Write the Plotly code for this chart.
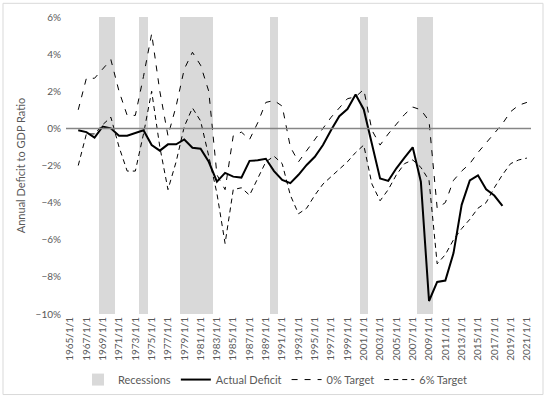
import plotly.graph_objects as go

years = list(range(1966, 2022))
label_years = list(range(1965, 2022, 2))
tick_labels = [f"{y}/1/1" for y in label_years]

recession_years = [1969, 1970, 1974, 1979, 1980, 1981, 1982, 1990, 2001, 2008, 2009]

actual_years = list(range(1966, 2019))
actual_deficit = [-0.1, -0.2, -0.5, 0.1, 0.0, -0.4, -0.4, -0.25, -0.1, -0.9,
                  -1.2, -0.86, -0.86, -0.6, -1.04, -1.1, -1.8, -2.87, -2.4, -2.6,
                  -2.65, -1.75, -1.72, -1.64, -2.3, -2.78, -2.95, -2.5, -1.97, -1.53,
                  -0.9, -0.09, 0.66, 1.04, 1.83, 1.02, -0.9, -2.7, -2.83, -2.15,
                  -1.58, -1.02, -2.87, -9.3, -8.27, -8.2, -6.72, -4.12, -2.8, -2.53,
                  -3.28, -3.62, -4.18]

target_0 = [1.0, 2.7, 2.7, 3.2, 3.7, 2.0, 0.7, 0.7, 2.8, 5.1,
            2.0, -0.4, 1.2, 3.2, 4.1, 3.4, 2.0, -2.5, -3.3, -0.4,
            -0.2, -0.6, 0.3, 1.4, 1.5, 1.2, -1.0, -1.8, -1.2, -0.6,
            0.0, 0.6, 1.1, 1.6, 1.7, 2.1, -0.1, -0.9, -0.3, 0.2,
            0.75, 1.15, 1.0, 0.4, -4.3, -4.0, -2.8, -2.3, -1.9, -1.3,
            -0.8, -0.3, 0.25, 0.9, 1.25, 1.4]

target_6 = [-2.0, -0.3, -0.3, 0.2, 0.6, -1.0, -2.3, -2.3, -0.3, 2.0,
            -1.0, -3.3, -1.8, 0.1, 1.1, 0.4, -1.5, -3.5, -6.2, -3.3,
            -3.2, -3.6, -2.7, -1.8, -1.5, -1.9, -3.6, -4.6, -4.3, -3.6,
            -3.0, -2.6, -2.2, -1.8, -1.3, -0.9, -3.0, -3.9, -3.3, -2.5,
            -1.9, -1.7, -2.1, -2.8, -7.3, -6.8, -6.0, -5.4, -4.9, -4.3,
            -4.0, -3.2, -2.5, -1.9, -1.7, -1.6]

Y_MIN, Y_MAX = -10, 6
FONT = "Lato"
GREY_TXT = "#595959"

fig = go.Figure()

fig.add_trace(go.Bar(
    x=recession_years, y=[Y_MAX - Y_MIN] * len(recession_years), base=Y_MIN,
    width=1, marker=dict(color="#d9d9d9", line=dict(width=0)),
    name="Recessions", hoverinfo="x"))

fig.add_trace(go.Scatter(
    x=actual_years, y=actual_deficit, mode="lines", name="Actual Deficit",
    line=dict(color="#000000", width=2)))

fig.add_trace(go.Scatter(
    x=years, y=target_0, mode="lines", name="0% Target",
    line=dict(color="#000000", width=1, dash="6px,7px")))

fig.add_trace(go.Scatter(
    x=years, y=target_6, mode="lines", name="6% Target",
    line=dict(color="#000000", width=1, dash="5px,4px")))

L, R, T, B = 66, 19, 16.7, 84.7
W, H = 550, 399
pw, ph = W - L - R, H - T - B

def px_x(p):
    return (p - L) / pw

def px_y(p):
    return (H - B - p) / ph

fig.add_shape(type="line", xref="paper", yref="y", x0=0, x1=1, y0=0, y1=0,
              line=dict(color="#868686", width=1.5), layer="above")
fig.add_shape(type="rect", xref="paper", yref="paper",
              x0=px_x(3), x1=px_x(543), y0=px_y(395), y1=px_y(3),
              line=dict(color="#d9d9d9", width=1), layer="below")

fig.update_layout(
    width=W, height=H,
    margin=dict(l=L, r=R, t=T, b=B, autoexpand=False),
    paper_bgcolor="white", plot_bgcolor="white",
    font=dict(family=FONT, size=10, color=GREY_TXT),
    bargap=0, showlegend=True,
    legend=dict(orientation="h", x=px_x(275), xanchor="center", y=px_y(380), yanchor="middle",
                font=dict(size=11, color=GREY_TXT), itemwidth=30,
                traceorder="normal"),
    xaxis=dict(range=[1964.5, 2021.5], tickmode="array", tickvals=label_years,
               ticktext=tick_labels, tickangle=-90, showgrid=False, zeroline=False,
               showline=False, ticks="", automargin=False,
               tickfont=dict(size=10, color=GREY_TXT)),
    yaxis=dict(range=[Y_MIN, Y_MAX], dtick=2, ticksuffix="%", showgrid=False,
               zeroline=False, showline=False, ticks="", automargin=False,
               ticklabelstandoff=4,
               tickfont=dict(size=10, color=GREY_TXT),
               title=dict(text="Annual Deficit to GDP Ratio", font=dict(size=11, color=GREY_TXT),
                          standoff=7)),
)

fig.write_html("out.html", config={"displayModeBar": False},
               post_script="document.body.style.margin='0px';document.body.style.overflow='hidden';")
